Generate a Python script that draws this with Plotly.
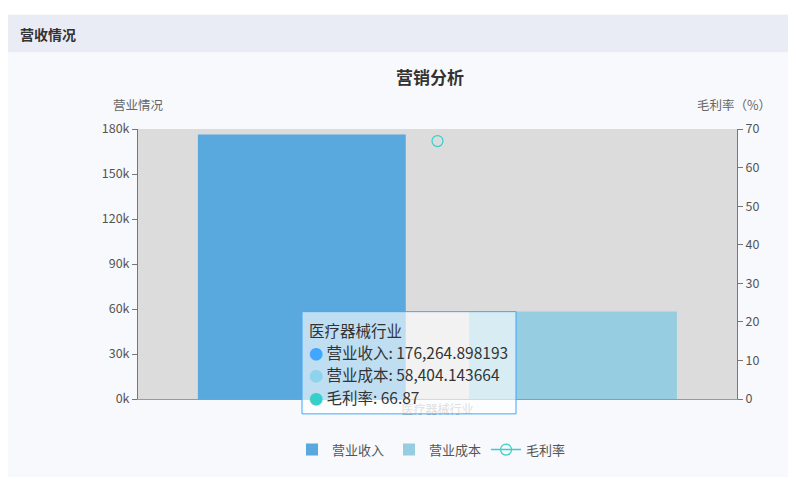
import plotly.graph_objects as go

# data
categorias = ['医疗器械行业']
ingresos = [176264.898193]
costes = [58404.143664]
margen = [66.87]

ticks_izq = [0, 30000, 60000, 90000, 120000, 150000, 180000]
ticks_izq_txt = ['0k', '30k', '60k', '90k', '120k', '150k', '180k']
ticks_der = [0, 10, 20, 30, 40, 50, 60, 70]

fuente = 'Noto Sans CJK SC'
OFF = 8  # margen del body en la página
W, H = 780, 469
L, R, T, B = 130, 51, 121, 76
pw, ph = W - L - R, H - T - B


# px de la referencia -> coords paper
def px_x(x):
    return (x - OFF - L) / pw


def px_y(y):
    return (T + ph - (y - OFF)) / ph


fig = go.Figure()

fig.add_trace(go.Bar(x=categorias, y=ingresos, name='营业收入',
                     marker=dict(color='#59a8de', line_width=0),
                     offset=-0.4, width=0.347, hoverinfo='skip'))
fig.add_trace(go.Bar(x=categorias, y=costes, name='营业成本',
                     marker=dict(color='#96cde0', line_width=0),
                     offset=0.0526, width=0.347, hoverinfo='skip'))
fig.add_trace(go.Scatter(x=categorias, y=margen, name='毛利率', yaxis='y2',
                         mode='lines+markers',
                         line=dict(color='#36cfc9', width=1.5),
                         marker=dict(symbol='circle-open', size=11,
                                     color='#36cfc9', line=dict(width=1.2)),
                         hoverinfo='skip'))

fig.update_layout(
    width=W, height=H,
    margin=dict(l=L, r=R, t=T, b=B),
    paper_bgcolor='white',
    plot_bgcolor='#dcdcdd',
    barmode='group',
    font=dict(family=fuente, size=12, color='#666'),
    showlegend=True,
    legend=dict(orientation='h', x=0.49, xanchor='center', y=px_y(452), yanchor='middle',
                font=dict(size=13, color='#555'), bgcolor='rgba(0,0,0,0)',
                itemwidth=30, traceorder='normal'),
    xaxis=dict(type='category', range=[-0.5, 0.5], showgrid=False,
               showline=True, linecolor='#999', linewidth=1,
               ticks='', tickfont=dict(size=12, color='#aaa'), fixedrange=True),
    yaxis=dict(range=[0, 180000], tickvals=ticks_izq, ticktext=ticks_izq_txt,
               showgrid=False, zeroline=False, showline=True, linecolor='#777',
               linewidth=1, ticks='outside', ticklen=5, tickcolor='#777',
               tickfont=dict(size=12.5, color='#555')),
    yaxis2=dict(range=[0, 70], tickvals=ticks_der, overlaying='y', side='right',
                showgrid=False, zeroline=False, showline=True, linecolor='#777',
                linewidth=1, ticks='outside', ticklen=5, tickcolor='#777',
                tickfont=dict(size=12.5, color='#555')),
)

# fondo de la página: franja superior, cabecera, panel y zona de sombra
fig.add_shape(type='rect', xref='paper', yref='paper', layer='below',
              x0=px_x(7), x1=px_x(800), y0=px_y(3), y1=px_y(-10),
              fillcolor='#f8f9fc', line_width=0)
fig.add_shape(type='rect', xref='paper', yref='paper', layer='below',
              x0=px_x(7), x1=px_x(800), y0=px_y(52), y1=px_y(14),
              fillcolor='#e9ecf5', line_width=0)
fig.add_shape(type='rect', xref='paper', yref='paper', layer='below',
              x0=px_x(7), x1=px_x(800), y0=px_y(490), y1=px_y(52),
              fillcolor='#f8f9fc', line_width=0)
fig.add_shape(type='rect', xref='paper', yref='paper', layer='below',
              x0=0, x1=1, y0=0, y1=1, fillcolor='#dcdcdd', line_width=0)

anots = [
    dict(text='<b>营收情况</b>', x=px_x(18), y=px_y(33), xanchor='left', yanchor='middle',
         font=dict(size=14, color='#333')),
    dict(text='<b>营销分析</b>', x=px_x(430), y=px_y(76), xanchor='center', yanchor='middle',
         font=dict(size=17, color='#333')),
    dict(text='营业情况', x=px_x(138), y=px_y(104), xanchor='center', yanchor='middle',
         font=dict(size=12.5, color='#666')),
    dict(text='毛利率（%）', x=px_x(734), y=px_y(104), xanchor='center', yanchor='middle',
         font=dict(size=12.5, color='#666')),
]
for a in anots:
    fig.add_annotation(xref='paper', yref='paper', showarrow=False, **a)

# tooltip congelado
fig.add_shape(type='rect', xref='paper', yref='paper',
              x0=px_x(302), x1=px_x(516), y0=px_y(416), y1=px_y(313),
              fillcolor='rgba(255,255,255,0.62)', line=dict(color='#3fa7ff', width=1))
filas = [
    (categorias[0], None),
    ('营业收入: {:,.6f}'.format(ingresos[0]), '#3fa7ff'),
    ('营业成本: {:,.6f}'.format(costes[0]), '#8dd3ec'),
    ('毛利率: {:.2f}'.format(margen[0]), '#36cfc9'),
]
for i, (txt, col) in enumerate(filas):
    yy = 331 + i * 22.5
    if col:
        txt = '<span style="color:%s;font-size:14px">●</span> %s' % (col, txt)
    fig.add_annotation(xref='paper', yref='paper', showarrow=False,
                       x=px_x(307), y=px_y(yy), xanchor='left', yanchor='middle',
                       text=txt, font=dict(size=15.5, color='#333'))

fig.write_html("out.html")
